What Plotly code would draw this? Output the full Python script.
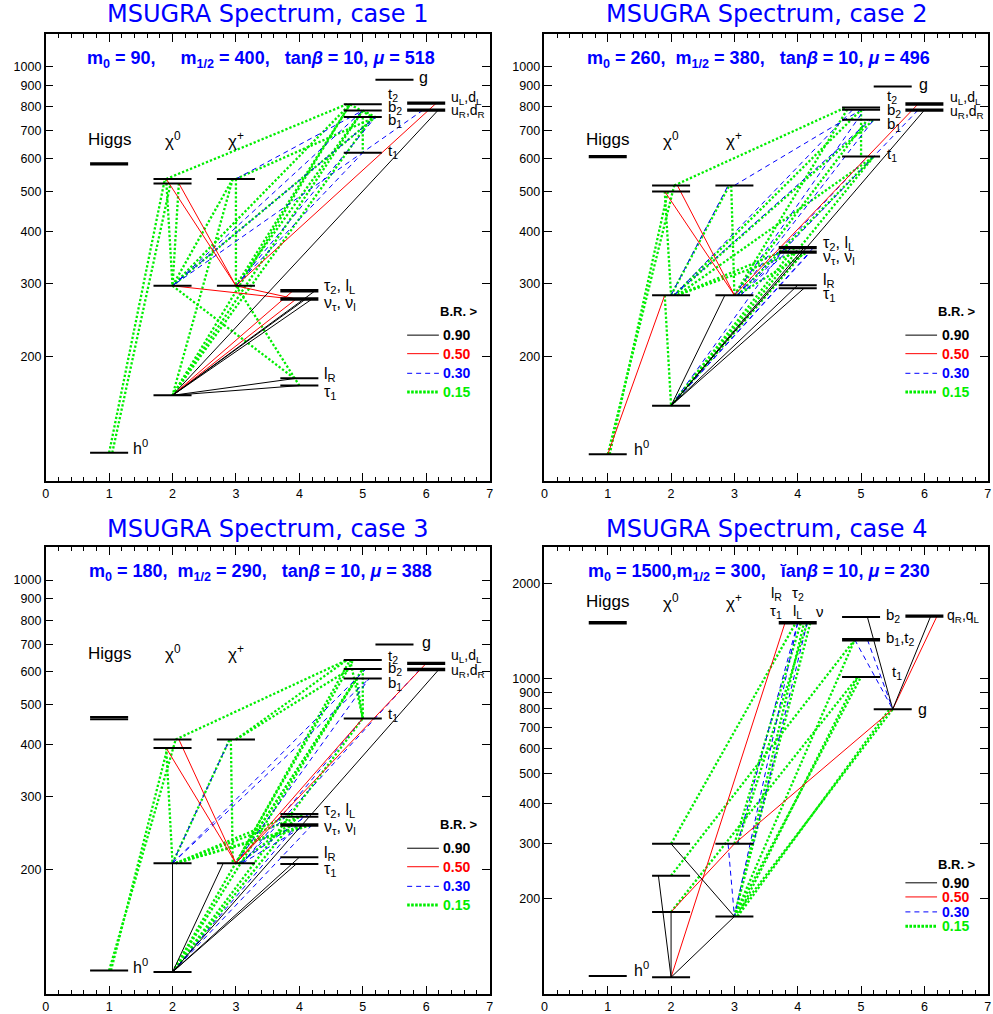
import math
import plotly.graph_objects as go

# ---------------- column (category) of each particle ----------------
COL = {"h0": 1.0, "H": 1.0, "H2": 1.0,
       "N1": 2.0, "N2": 2.0, "N3": 2.0, "N4": 2.0,
       "C1": 3.0, "C2": 3.0,
       "tau1": 4.0, "lR": 4.0, "snu": 4.0, "tau2": 4.0, "lL": 4.0, "sl": 4.0,
       "t1": 5.0, "b1": 5.0, "b2": 5.0, "t2": 5.0,
       "g": 5.5, "uR": 6.0, "uL": 6.0}

titles = ["MSUGRA Spectrum, case 1", "MSUGRA Spectrum, case 2",
          "MSUGRA Spectrum, case 3", "MSUGRA Spectrum, case 4"]
params = [
    "m<sub>0</sub> = 90,\u00a0\u00a0\u00a0\u00a0 m<sub>1/2</sub> = 400,\u00a0\u00a0 tan<i>β</i> = 10, <i>μ</i> = 518",
    "m<sub>0</sub> = 260,\u00a0 m<sub>1/2</sub> = 380,\u00a0\u00a0 tan<i>β</i> = 10, <i>μ</i> = 496",
    "m<sub>0</sub> = 180,\u00a0 m<sub>1/2</sub> = 290,\u00a0\u00a0 tan<i>β</i> = 10, <i>μ</i> = 388",
    "m<sub>0</sub> = 1500,m<sub>1/2</sub> = 300,\u00a0\u00a0 ĭan<i>β</i> = 10, <i>μ</i> = 230",
]

# ---------------- masses (GeV) ----------------
c1_mass = dict(h0=117, H=583, N1=161, N2=296, N3=523, N4=536, C1=296, C2=536,
               tau1=170, lR=177, snu=275, tau2=288, t1=620, b1=756, b2=784, t2=812,
               g=931, uR=786, uL=817)
c2_mass = dict(h0=116, H=607, N1=152, N2=281, N3=500, N4=517, C1=281, C2=517,
               tau1=292, lR=297, snu=357, tau2=366, t1=607, b1=745, b2=787, t2=797,
               g=896, uR=786, uL=813)
c3_mass = dict(h0=114, H=467, H2=461, N1=113, N2=207, N3=393, N4=412, C1=207, C2=412,
               tau1=206, lR=214, snu=256, tau2=272, lL=268, t1=463, b1=578, b2=610, t2=641,
               g=699, uR=608, uL=629)
c4_mass = dict(h0=114, H=1500, N1=113, N2=182, N3=237, N4=299, C1=176, C2=299,
               sl=1500, t1=1010, b1=1325, b2=1563, g=798, uL=1574)

# degenerate (drawn thicker) levels
c1_thick = ["H", "snu", "tau2", "uR", "uL"]
c2_thick = ["H", "snu", "tau2", "uR", "uL"]
c3_thick = ["snu", "uR", "uL"]
c4_thick = ["H", "sl", "b1", "uL"]

# ---------------- decays: (parent, x-offset, daughter, x-offset) by branching ratio ----------------
c1_br90 = [("uR", 0.19, "N1", 0.0), ("tau2", 0.25, "N1", 0.0), ("snu", 0.2, "N1", 0.0),
           ("snu", 0.1, "N1", 0.0), ("lR", -0.05, "N1", 0.0), ("tau1", 0.0, "N1", 0.0)]
c1_br50 = [("N4", -0.1, "C1", 0.0), ("N3", 0.1, "C1", 0.0), ("N2", 0.0, "snu", -0.1),
           ("C1", 0.0, "snu", -0.05), ("N1", 0.0, "tau2", -0.1), ("N1", 0.0, "snu", -0.05),
           ("uL", 0.16, "C1", 0.0)]
c1_br30 = [("C2", 0.0, "b2", 0.0), ("N2", 0.0, "b2", 0.0), ("N2", 0.0, "b1", 0.2),
           ("C1", 0.0, "b1", 0.2), ("C1", 0.0, "t1", 0.0), ("uR", -0.05, "N2", 0.0)]
c1_br15 = [("h0", 0.0, "N4", -0.12), ("h0", 0.05, "N3", -0.03), ("N4", -0.1, "N2", 0.0),
           ("N3", 0.1, "N2", 0.0), ("N4", -0.1, "t2", -0.25), ("C2", -0.05, "N2", 0.0),
           ("C2", -0.05, "N1", 0.0), ("C2", 0.0, "C1", 0.0), ("N2", 0.0, "lR", -0.08),
           ("C1", 0.0, "tau1", 0.0), ("N1", 0.0, "t2", -0.2), ("N1", 0.0, "b2", 0.0),
           ("N1", 0.0, "b1", 0.15), ("N2", 0.0, "t2", -0.2), ("N2", 0.0, "b1", 0.2),
           ("C1", 0.0, "t2", -0.2), ("C1", 0.0, "b2", 0.0), ("C2", 0.0, "b1", 0.2),
           ("b1", 0.0, "t1", 0.0), ("t2", -0.2, "b1", 0.15), ("b2", 0.0, "b1", 0.2)]

c2_br90 = [("uR", 0.0, "N1", 0.0), ("C1", -0.15, "N1", 0.0), ("tau2", 0.1, "N1", 0.0),
           ("lR", 0.0, "N1", 0.0), ("tau1", 0.1, "N1", 0.0)]
c2_br50 = [("h0", 0.0, "N2", -0.1), ("N4", 0.1, "C1", 0.0), ("N3", -0.1, "C1", 0.0),
           ("uL", -0.1, "C1", 0.0)]
c2_br30 = [("N2", 0.0, "C2", -0.1), ("C2", 0.0, "b2", 0.0), ("N2", 0.05, "t2", -0.1),
           ("N2", 0.05, "b1", 0.15), ("C1", 0.0, "b2", 0.05), ("C1", 0.05, "b1", 0.2),
           ("C1", 0.05, "t1", 0.1), ("N1", 0.0, "tau2", -0.2), ("N1", 0.0, "snu", 0.2),
           ("N1", 0.0, "tau2", 0.25), ("C1", 0.1, "tau2", -0.1), ("uR", -0.1, "C1", 0.1)]
c2_br15 = [("h0", 0.0, "N4", 0.05), ("h0", 0.03, "N3", -0.05), ("N3", -0.1, "N2", 0.0),
           ("N2", -0.1, "N1", 0.0), ("N2", 0.0, "C2", -0.08), ("C2", -0.05, "C1", 0.0),
           ("N4", 0.05, "t2", -0.25), ("N2", 0.05, "b2", 0.0), ("N2", 0.05, "b1", 0.2),
           ("N2", 0.1, "tau2", -0.1), ("N2", 0.1, "snu", 0.0), ("N2", 0.1, "t1", 0.2),
           ("C1", 0.0, "t2", -0.2), ("C1", 0.0, "b1", 0.1), ("C1", 0.05, "t1", 0.2),
           ("N1", 0.0, "tau2", -0.05), ("N1", 0.0, "snu", 0.1), ("N1", 0.0, "t1", 0.2),
           ("b2", 0.0, "t1", 0.0), ("C1", 0.05, "snu", 0.15)]

c3_br90 = [("N2", 0.0, "N1", 0.0), ("C1", -0.2, "N1", 0.0), ("uR", 0.2, "N1", 0.0),
           ("lR", 0.0, "N1", 0.0), ("tau1", -0.05, "N1", 0.0)]
c3_br50 = [("N4", 0.1, "C1", 0.0), ("N3", -0.1, "C1", 0.0), ("uL", 0.0, "C1", 0.0),
           ("t1", 0.0, "C1", 0.0)]
c3_br30 = [("N2", 0.0, "C2", -0.1), ("N2", 0.0, "b2", 0.05), ("N2", 0.0, "b1", 0.1),
           ("C1", 0.0, "b1", 0.1), ("C1", 0.1, "t1", 0.0), ("uR", -0.1, "C1", 0.1),
           ("N1", 0.0, "tau2", 0.1), ("N1", 0.0, "snu", 0.2), ("C1", 0.1, "snu", 0.1),
           ("C1", 0.05, "tau2", 0.15)]
c3_br15 = [("h0", 0.0, "N4", 0.05), ("h0", 0.03, "N3", -0.08), ("N3", -0.1, "N2", 0.0),
           ("N2", 0.0, "C2", -0.1), ("C2", -0.08, "C1", -0.05), ("N4", 0.05, "t2", -0.25),
           ("C2", 0.0, "t2", -0.25), ("C2", 0.0, "b2", -0.2), ("N2", 0.05, "tau2", -0.1),
           ("N2", 0.05, "lL", 0.0), ("N2", 0.05, "snu", 0.1), ("N2", 0.05, "snu", 0.2),
           ("C1", 0.05, "tau2", 0.05), ("C1", 0.0, "t2", -0.2), ("C1", 0.0, "b2", 0.0),
           ("C1", 0.0, "b1", -0.1), ("N1", 0.0, "t1", 0.0), ("N1", 0.0, "tau2", 0.0),
           ("N1", 0.0, "b1", -0.1), ("N1", 0.0, "t2", -0.15), ("b2", 0.0, "t1", 0.0),
           ("t2", -0.2, "t1", 0.0), ("b1", -0.1, "t1", 0.0)]

c4_br90 = [("N4", 0.0, "C1", 0.0), ("N3", -0.2, "N1", 0.0), ("N2", 0.0, "N1", 0.0),
           ("C1", 0.0, "N1", 0.0), ("b2", 0.1, "g", 0.0), ("uL", 0.1, "g", 0.0)]
c4_br50 = [("N1", 0.0, "sl", -0.2), ("N2", 0.0, "C2", 0.0), ("C2", 0.0, "g", 0.0),
           ("uL", 0.2, "g", 0.0)]
c4_br30 = [("b1", -0.1, "g", 0.0), ("b1", 0.1, "g", 0.0), ("C2", -0.1, "C1", 0.0),
           ("sl", 0.0, "C2", 0.05), ("sl", 0.15, "C2", 0.3), ("sl", 0.0, "C1", 0.0)]
c4_br15 = [("N4", 0.0, "sl", -0.03), ("N3", 0.0, "b1", -0.1), ("N2", 0.0, "t1", -0.05),
           ("C2", 0.0, "sl", 0.05), ("C2", 0.05, "sl", 0.15), ("C1", 0.0, "sl", 0.1),
           ("C1", 0.0, "sl", 0.2), ("C1", 0.0, "b1", -0.1), ("C1", 0.0, "t1", 0.0),
           ("C1", 0.05, "t1", -0.05), ("C1", 0.0, "g", 0.0), ("C1", 0.05, "g", -0.05)]

# ---------------- text labels: (text, x, mass) ----------------
c1_labels = [("g", 5.85, 940), ("t<sub>2</sub>", 5.36, 858), ("b<sub>2</sub>", 5.36, 796),
             ("b<sub>1</sub>", 5.36, 740), ("t<sub>1</sub>", 5.36, 625),
             ("u<sub>L</sub>,d<sub>L</sub>", 6.36, 842), ("u<sub>R</sub>,d<sub>R</sub>", 6.36, 781),
             ("τ<sub>2</sub>, l<sub>L</sub>", 4.35, 295), ("ν<sub>τ</sub>, ν<sub>l</sub>", 4.35, 269),
             ("l<sub>R</sub>", 4.35, 181), ("τ<sub>1</sub>", 4.35, 164), ("h<sup>0</sup>", 1.35, 121)]
c2_labels = [("g", 5.88, 904), ("t<sub>2</sub>", 5.38, 846), ("b<sub>2</sub>", 5.38, 786),
             ("b<sub>1</sub>", 5.38, 726), ("t<sub>1</sub>", 5.38, 615),
             ("u<sub>L</sub>,d<sub>L</sub>", 6.37, 842), ("u<sub>R</sub>,d<sub>R</sub>", 6.37, 779),
             ("τ<sub>2</sub>, l<sub>L</sub>", 4.36, 374), ("ν<sub>τ</sub>, ν<sub>l</sub>", 4.36, 346),
             ("l<sub>R</sub>", 4.36, 304), ("τ<sub>1</sub>", 4.36, 282), ("h<sup>0</sup>", 1.38, 120)]
c3_labels = [("g", 5.9, 707), ("t<sub>2</sub>", 5.36, 655), ("b<sub>2</sub>", 5.36, 610),
             ("b<sub>1</sub>", 5.36, 563), ("t<sub>1</sub>", 5.36, 474),
             ("u<sub>L</sub>,d<sub>L</sub>", 6.36, 654), ("u<sub>R</sub>,d<sub>R</sub>", 6.36, 602),
             ("τ<sub>2</sub>, l<sub>L</sub>", 4.35, 277), ("ν<sub>τ</sub>, ν<sub>l</sub>", 4.35, 252),
             ("l<sub>R</sub>", 4.35, 219), ("τ<sub>1</sub>", 4.35, 200), ("h<sup>0</sup>", 1.35, 117)]
c4_labels = [("b<sub>2</sub>", 5.37, 1582), ("b<sub>1</sub>,t<sub>2</sub>", 5.37, 1335),
             ("t<sub>1</sub>", 5.45, 1040), ("g", 5.86, 795),
             ("q<sub>R</sub>,q<sub>L</sub>", 6.33, 1574), ("h<sup>0</sup>", 1.38, 120)]
c4_top_labels = [("l<sub>R</sub>", 3.66, 1860), ("τ<sub>2</sub>", 4.0, 1860),
                 ("τ<sub>1</sub>", 3.65, 1630), ("l<sub>L</sub>", 4.0, 1630), ("ν", 4.35, 1630)]

header_texts = ["Higgs", "χ<sup>0</sup>", "χ<sup>+</sup>"]
header_cols = [1.0, 2.0, 3.0]
header_mass = [666, 666, 666, 1745]

# legend (B.R. thresholds)
br_values = ["0.90", "0.50", "0.30", "0.15"]
br_colors = ["black", "red", "blue", "#00ee00"]
br_mass = [225, 203, 182, 164]
br_head_mass = 257

yranges = [(100, 1200), (100, 1200), (100, 1200), (100, 2600)]
ytick_vals = [[200, 300, 400, 500, 600, 700, 800, 900, 1000]] * 3 + \
             [[200, 300, 400, 500, 600, 700, 800, 900, 1000, 2000]]

cases = [
    (c1_mass, c1_thick, [c1_br90, c1_br50, c1_br30, c1_br15], c1_labels),
    (c2_mass, c2_thick, [c2_br90, c2_br50, c2_br30, c2_br15], c2_labels),
    (c3_mass, c3_thick, [c3_br90, c3_br50, c3_br30, c3_br15], c3_labels),
    (c4_mass, c4_thick, [c4_br90, c4_br50, c4_br30, c4_br15], c4_labels),
]

# ---------------- styles ----------------
GREEN = "#00ee00"
line_styles = [dict(color="black", width=1),
               dict(color="red", width=1),
               dict(color="blue", width=1, dash="5px,4px"),
               dict(color=GREEN, width=2.3, dash="2.3px,2px")]
FONT = "Liberation Sans, Arial, sans-serif"

xdoms = [[0.0433, 0.4935], [0.5491, 0.9987], [0.0433, 0.4935], [0.5491, 0.9987]]
ydoms = [[0.5256, 0.9665], [0.5256, 0.9665], [0.0197, 0.4603], [0.0197, 0.4603]]
title_y = [0.9865, 0.9865, 0.4785, 0.4785]

fig = go.Figure()
annotations = []

for i, (mass, thick, brs, labels) in enumerate(cases):
    xa = "x" if i == 0 else f"x{i+1}"
    ya = "y" if i == 0 else f"y{i+1}"

    # decay lines (green first so the solid lines stay visible)
    for k in [3, 2, 1, 0]:
        xs, ys = [], []
        for (p, dp, d, dd) in brs[k]:
            xs += [COL[p] + dp, COL[d] + dd, None]
            ys += [mass[p], mass[d], None]
        fig.add_trace(go.Scatter(x=xs, y=ys, mode="lines", line=line_styles[k],
                                 xaxis=xa, yaxis=ya, hoverinfo="skip", showlegend=False))

    # mass levels
    for is_thick in (False, True):
        xs, ys = [], []
        for name, m in mass.items():
            if (name in thick) != is_thick:
                continue
            xs += [COL[name] - 0.3, COL[name] + 0.3, None]
            ys += [m, m, None]
        w = 3.4 if is_thick else 2.0
        fig.add_trace(go.Scatter(x=xs, y=ys, mode="lines", line=dict(color="black", width=w),
                                 xaxis=xa, yaxis=ya, hoverinfo="skip", showlegend=False))

    # legend samples
    for k in range(4):
        st = line_styles[k] if k < 3 else dict(color=GREEN, width=3, dash="2.6px,1.4px")
        fig.add_trace(go.Scatter(x=[5.7, 6.2], y=[br_mass[k], br_mass[k]], mode="lines",
                                 line=st, xaxis=xa, yaxis=ya, hoverinfo="skip", showlegend=False))
        annotations.append(dict(x=6.24, y=math.log10(br_mass[k]), xref=xa, yref=ya,
                                text=f"<b>{br_values[k]}</b>", showarrow=False, xanchor="left",
                                yanchor="middle", font=dict(family=FONT, size=14, color=br_colors[k])))
    annotations.append(dict(x=6.52, y=math.log10(br_head_mass), xref=xa, yref=ya,
                            text="<b>B.R. ></b>", showarrow=False, xanchor="center",
                            yanchor="middle", font=dict(family=FONT, size=13, color="black")))

    # level labels
    for (t, x, m) in labels:
        if t.startswith("u<") or t.startswith("q<"):
            sz = 14
        elif t.startswith(("t<", "b<")):
            sz = 15
        else:
            sz = 16
        annotations.append(dict(x=x, y=math.log10(m), xref=xa, yref=ya, text=t, showarrow=False,
                                xanchor="left", yanchor="middle",
                                font=dict(family=FONT, size=sz, color="black")))
    if i == 3:
        for (t, x, m) in c4_top_labels:
            annotations.append(dict(x=x, y=math.log10(m), xref=xa, yref=ya, text=t, showarrow=False,
                                    xanchor="center", yanchor="middle",
                                    font=dict(family=FONT, size=15, color="black")))
    # headers
    for t, c in zip(header_texts, header_cols):
        annotations.append(dict(x=c, y=math.log10(header_mass[i]), xref=xa, yref=ya, text=t,
                                showarrow=False, xanchor="center", yanchor="middle",
                                font=dict(family=FONT, size=17, color="black")))
    # parameter line
    annotations.append(dict(x=0.484, y=0.944, xref=f"{xa} domain", yref=f"{ya} domain",
                            text=f"<b>{params[i]}</b>", showarrow=False, xanchor="center",
                            yanchor="middle", font=dict(family=FONT, size=18, color="blue")))
    # title
    annotations.append(dict(x=(xdoms[i][0] + xdoms[i][1]) / 2, y=title_y[i], xref="paper",
                            yref="paper", text=titles[i], showarrow=False, xanchor="center",
                            yanchor="middle", font=dict(family="DejaVu Sans", size=24, color="blue")))

    axis_common = dict(showline=True, linecolor="black", linewidth=1.6, mirror="ticks",
                       ticks="inside", tickcolor="black", tickwidth=1.2, showgrid=False,
                       zeroline=False, tickfont=dict(family=FONT, size=12.5, color="black"))
    xkey = "xaxis" if i == 0 else f"xaxis{i+1}"
    ykey = "yaxis" if i == 0 else f"yaxis{i+1}"
    fig.layout[xkey] = dict(domain=xdoms[i], range=[0, 7], anchor=ya, tickmode="array",
                            tickvals=list(range(8)), ticktext=[str(v) for v in range(8)],
                            ticklen=8,
                            minor=dict(dtick=0.2, tick0=0, ticks="inside", ticklen=4,
                                       tickcolor="black", tickwidth=1),
                            **axis_common)
    fig.layout[ykey] = dict(domain=ydoms[i], type="log",
                            range=[math.log10(yranges[i][0]), math.log10(yranges[i][1])],
                            anchor=xa, tickmode="array", tickvals=ytick_vals[i],
                            ticktext=[str(v) for v in ytick_vals[i]], ticklen=8,
                            **axis_common)

fig.update_layout(width=993, height=1014, margin=dict(l=0, r=0, t=0, b=0),
                  paper_bgcolor="white", plot_bgcolor="white", showlegend=False,
                  annotations=annotations)

fig.write_html("out.html")
